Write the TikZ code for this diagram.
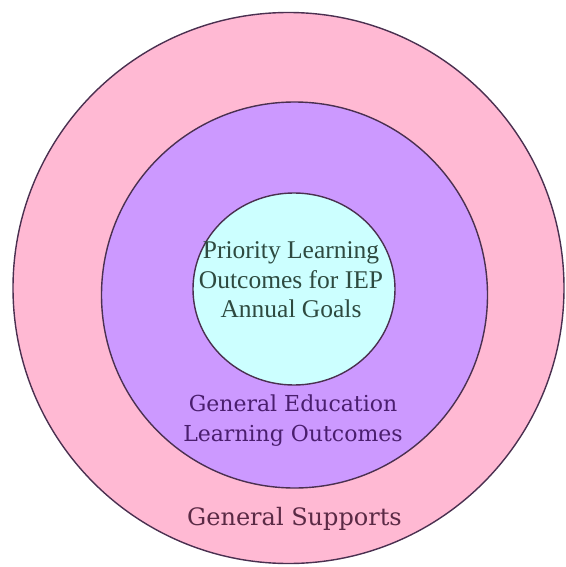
\documentclass[tikz,border=0pt]{standalone}
\usepackage{fontspec}
\setmainfont{Liberation Serif}
\newfontfamily\labelfont{DejaVu Serif}
\usepackage{tikz}
\usetikzlibrary{shapes.geometric}
\definecolor{ringouter}{HTML}{FFB9D3}
\definecolor{ringmid}{HTML}{CC99FF}
\definecolor{ringinner}{HTML}{CCFFFF}
\definecolor{ringline}{HTML}{4A3050}
\definecolor{txtinner}{HTML}{2E4A40}
\definecolor{txtmid}{HTML}{4A1E6E}
\definecolor{txtouter}{HTML}{5A2A45}

\begin{document}
\begin{tikzpicture}[x=1pt, y=-1pt,
  ring/.style={draw=ringline, line width=1.4pt, inner sep=0pt},
  lbl/.style={align=center, inner sep=0pt}
]
  \useasboundingbox (0,0) rectangle (565,567);
  \node[ring, circle, fill=ringouter, minimum size=551pt] (supports) at (288.5,288) {};
  \node[ring, circle, fill=ringmid, minimum size=386pt] (genedu) at (294.5,295) {};
  \node[ring, ellipse, fill=ringinner, minimum width=202pt, minimum height=192pt] (priority) at (294,289) {};

  \node[lbl, text=txtinner, font=\fontsize{25.5}{29.5}\selectfont] (prioritytxt) at (291,280)
    {Priority Learning\\Outcomes for IEP\\Annual Goals};
  \node[lbl, text=txtmid, font=\labelfont\fontsize{22}{30}\selectfont] (genedutxt) at (293,421)
    {General Education\\Learning Outcomes};
  \node[lbl, text=txtouter, font=\labelfont\fontsize{24}{29}\selectfont] (supportstxt) at (294.5,519)
    {General Supports};
\end{tikzpicture}
\end{document}
